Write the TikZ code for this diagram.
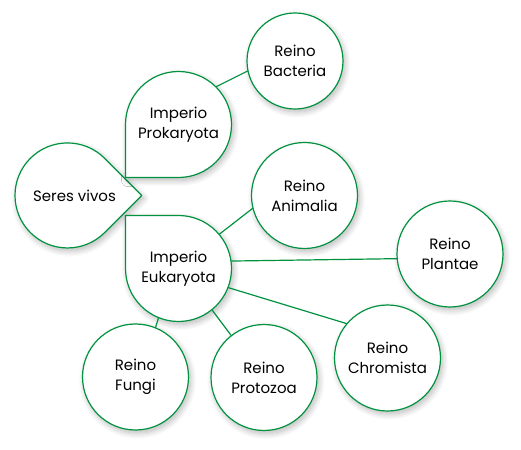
\documentclass[tikz,border=0pt]{standalone}
\usepackage{fontspec}
\setmainfont{Poppins}
\usetikzlibrary{shadows.blur}
\definecolor{verde}{RGB}{0,146,63}

\begin{document}
\begin{tikzpicture}[x=1pt,y=1pt,line width=1.2pt,line cap=round,line join=round,
  sombra/.style={blur shadow={shadow xshift=2pt,shadow yshift=-3pt,shadow blur radius=6pt,shadow blur steps=10,shadow opacity=28}},
  texto/.style={circle,minimum size=106pt,inner sep=0pt,align=center,font=\fontsize{15}{20}\selectfont},
  reino/.style={texto,draw=verde,fill=white,sombra},
  forma/.style={draw=verde,fill=white,sombra},
  enlace/.style={draw=verde}]
\useasboundingbox (0,0) rectangle (521,449);
% seres vivos, pico a la derecha
\coordinate (c0) at (67.5,253.5);
\path[forma] (c0) ++(45:52.5) -- ++(37.1,-37.1) -- ++(-37.1,-37.1)
    arc[start angle=-45,end angle=-315,radius=52.5] -- cycle;
\node[texto,minimum size=105pt,xshift=7pt] (seres) at (c0) {Seres vivos};
% imperios
\coordinate (c1) at (178.5,324.5);
\path[forma] (c1) ++(-53,0) -- ++(0,-53) -- ++(53,0)
    arc[start angle=-90,end angle=180,radius=53] -- cycle;
\node[texto] (proka) at (c1) {Imperio\\Prokaryota};
\coordinate (c2) at (178.5,180.5);
\path[forma] (c2) ++(0,53) -- ++(-53,0) -- ++(0,-53)
    arc[start angle=180,end angle=450,radius=53] -- cycle;
\node[texto] (euka) at (c2) {Imperio\\Eukaryota};
% reinos
\node[reino,minimum size=96pt] (bact) at (295,388) {Reino\\Bacteria};
\node[reino] (anim) at (304.5,253.5) {Reino\\Animalia};
\node[reino] (plant) at (450,195) {Reino\\Plantae};
\node[reino] (chrom) at (387.5,91) {Reino\\Chromista};
\node[reino] (proto) at (264,71.5) {Reino\\Protozoa};
\node[reino] (fungi) at (135.5,72) {Reino\\Fungi};
% enlaces
\draw[enlace] (proka.45) -- (bact.192);
\draw[enlace] (euka.40) -- (anim.194);
\draw[enlace] (euka.8) -- (plant.185);
\draw[enlace] (euka.-21) -- (chrom.140);
\draw[enlace] (euka.-51) -- (proto.128);
\draw[enlace] (euka.-112) -- (fungi.68);
\end{tikzpicture}
\end{document}
